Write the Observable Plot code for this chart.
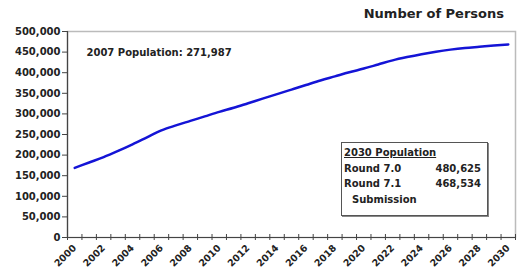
<!DOCTYPE html>
<html>
<head>
<meta charset="utf-8">
<script src="https://cdn.jsdelivr.net/npm/d3@7"></script>
<script src="https://cdn.jsdelivr.net/npm/@observablehq/plot@0.6"></script>
<style>
  html, body { margin: 0; padding: 0; background: #fff; }
  #wrap { position: relative; width: 522px; height: 278px; font-family: "DejaVu Sans", sans-serif; color: #222; }
  #title { height: 24px; box-sizing: border-box; padding-top: 7px; padding-right: 18px; text-align: right; font-weight: bold; font-size: 13px; line-height: 13px; }
  #box { position: absolute; left: 341px; top: 142px; width: 147px; height: 74px; box-sizing: border-box; border: 1px solid #555; box-shadow: 1px 1px 0 #888; background: #fff; font-weight: bold; font-size: 10px; line-height: 15.5px; padding: 2px 0 0 2px; }
  #box .row { display: flex; justify-content: space-between; width: 137px; }
  #box .hd { text-decoration: underline; }
  #box .sub { padding-left: 8px; }
</style>
</head>
<body>
<div id="wrap">
  <div id="title"></div>
  <div id="chart"></div>
  <div id="box"></div>
</div>
<script>
const years = d3.range(2000, 2031);
const population = [169000, 182000, 195000, 210000, 226000, 243000, 260000, 272000, 283000, 294000,
  305000, 315000, 326000, 337000, 348000, 359000, 370000, 381000, 391000, 401000,
  410000, 420000, 430000, 438000, 445000, 451000, 456000, 460000, 463000, 466000, 468534];
const yTicks = d3.range(0, 500001, 50000);
const xLabels = d3.range(2000, 2031, 2);
const xBoundaries = d3.range(1999.5, 2031, 1);
const titleText = "Number of Persons";
const annotation = "2007 Population: 271,987";
const boxTitle = "2030 Population";
const boxRows = [["Round 7.0", "480,625"], ["Round 7.1", "468,534"]];
const boxNote = "Submission";

const data = years.map((y, i) => ({year: y, value: population[i]}));

document.getElementById("title").textContent = titleText;
const box = document.getElementById("box");
box.innerHTML = `<div class="hd">${boxTitle}</div>` +
  boxRows.map(r => `<div class="row"><span>${r[0]}</span><span>${r[1]}</span></div>`).join("") +
  `<div class="sub">${boxNote}</div>`;

const chart = Plot.plot({
  width: 522,
  height: 254,
  marginLeft: 67,
  marginRight: 7,
  marginTop: 7,
  marginBottom: 41,
  style: {fontFamily: "DejaVu Sans", fontWeight: "bold", fontSize: "10px", color: "#222", background: "#fff"},
  x: {domain: [1999.5, 2030.5]},
  y: {domain: [0, 500000]},
  marks: [
    Plot.frame({stroke: "#bbb", strokeWidth: 1.5}),
    Plot.axisY({ticks: yTicks, tickFormat: d3.format(","), tickSize: 5, tickPadding: 2, fontSize: 10, stroke: "#444", label: null}),
    Plot.ruleX([1999.5], {stroke: "#444", strokeWidth: 1.2}),
    Plot.ruleY([0], {stroke: "#444", strokeWidth: 1.2}),
    Plot.axisX({ticks: xBoundaries, tickSize: 6, dy: -3, text: null, stroke: "#444", label: null}),
    Plot.axisX({ticks: xLabels, tickSize: 0, tickPadding: 9, tickRotate: -45, tickFormat: d => String(d), fontSize: 9.5, label: null}),
    Plot.lineY(data, {x: "year", y: "value", stroke: "#1414d6", strokeWidth: 2.5, curve: "monotone-x"}),
    Plot.text([annotation], {frameAnchor: "top-left", dx: 19, dy: 17, lineAnchor: "top", textAnchor: "start", fontSize: 10})
  ]
});
document.getElementById("chart").appendChild(chart);
</script>
</body>
</html>
